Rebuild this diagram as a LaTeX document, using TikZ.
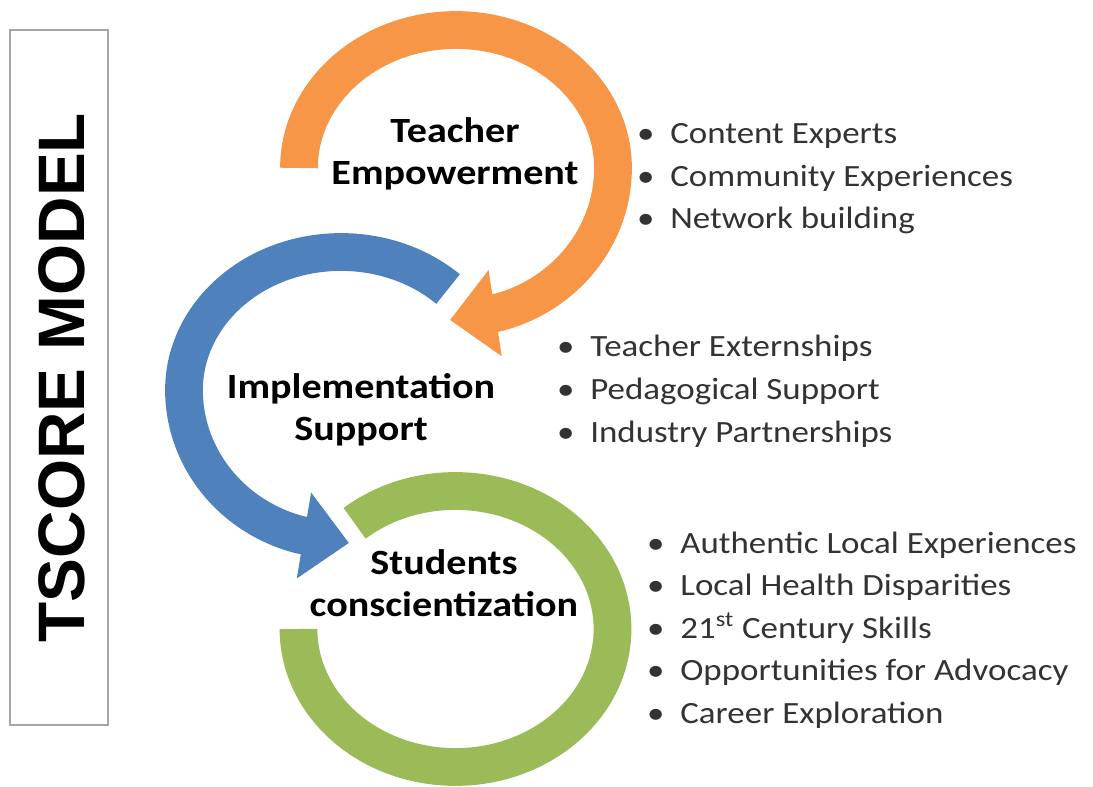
\documentclass[tikz,border=0pt]{standalone}
\usepackage{fontspec}
\setmainfont{Carlito}[FakeStretch=1.13]
\newfontfamily\sidefont{Liberation Sans}
\usepackage{tikz}
\usetikzlibrary{arrows.meta}
\definecolor{orng}{HTML}{F79646}
\definecolor{blu}{HTML}{4F81BD}
\definecolor{grn}{HTML}{9BBB59}
\definecolor{txtgray}{HTML}{333333}
\begin{document}
\begin{tikzpicture}[x=0.02cm,y=0.02cm]
\tikzstyle{band} = [line width=21.5pt];
\tikzstyle{headtip} = [-{Triangle[length=26pt,width=48pt]}];
\tikzstyle{titletext} = [font=\bfseries\fontsize{20.2}{23.8}\selectfont, align=center, text=black];
\tikzstyle{listitem} = [font=\fontsize{17.6}{24}\selectfont, text=txtgray, anchor=base west, inner sep=0pt];
\useasboundingbox (0,0) rectangle (1093,-787);
% side label
\node[draw=gray!70, line width=0.8pt, minimum width=1.96cm, minimum height=13.9cm, inner sep=0pt] (box) at (59,-377.5) {};
\node[rotate=90, font=\sidefont\bfseries\fontsize{37.4}{40}\selectfont] (tscore) at (61.5,-377.5) {TSCORE MODEL};
% rings
\coordinate (oc) at (456,-168);
\coordinate (bc) at (341,-390);
\coordinate (gc) at (455.5,-629);
\coordinate (otip) at (450,-320);
\coordinate (btip) at (349,-543);
\draw[grn, band] (gc) ++(130:157 and 138) arc[start angle=130, end angle=-180, x radius=157, y radius=138];
\draw[blu, band, headtip] (bc) ++(47:157 and 138) arc[start angle=47, end angle=180, x radius=157, y radius=138]
  arc[start angle=180, end angle=255, x radius=157, y radius=150] -- (btip);
\draw[orng, band, headtip] (oc) ++(180:157 and 138) arc[start angle=180, end angle=0, x radius=157, y radius=138]
  arc[start angle=0, end angle=-75, x radius=157, y radius=150] -- (otip);
% titles
\node[titletext] (TE) at (455,-153.5) {Teacher\\Empowerment};
\node[titletext] (IS) at (361,-410) {Implementation\\Support};
\node[titletext] (SC) at (444,-583) {Students\\conscientization};
% lists
\foreach \t [count=\i] in {Content Experts, Community Experiences, Network building}
  \node[listitem] (te\i) at (670,-101.5-42.5*\i) {\llap{\textbullet\hspace{9pt}}\t};
\foreach \t [count=\i] in {Teacher Externships, Pedagogical Support, Industry Partnerships}
  \node[listitem] (is\i) at (590,-314.5-42.5*\i) {\llap{\textbullet\hspace{9pt}}\t};
\foreach \t [count=\i] in {Authentic Local Experiences, Local Health Disparities, {21\textsuperscript{st} Century Skills}, Opportunities for Advocacy, Career Exploration}
  \node[listitem] (sc\i) at (680,-510.5-42.5*\i) {\llap{\textbullet\hspace{9pt}}\t};
\end{tikzpicture}
\end{document}
